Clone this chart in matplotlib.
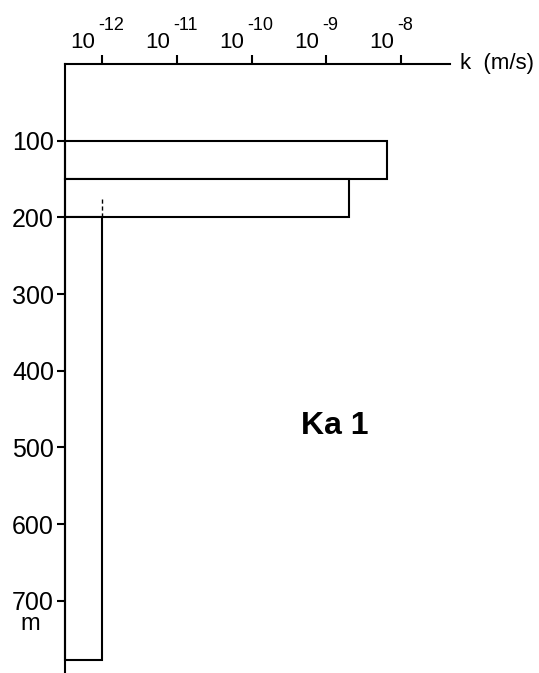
import matplotlib
matplotlib.use("Agg")
import matplotlib.pyplot as plt
from matplotlib.transforms import blended_transform_factory

plt.rcParams['font.family'] = ['Liberation Sans', 'DejaVu Sans']

# Data
depth_top = [100, 150, 200]
depth_bottom = [150, 200, 777]
k_values = [6.5e-9, 2.0e-9, 1.0e-12]
dash_k = 1.0e-12
dash_depth = [176, 200]
xtick_vals = [1e-12, 1e-11, 1e-10, 1e-9, 1e-8]
xtick_exponents = ['-12', '-11', '-10', '-9', '-8']
ytick_vals = [100, 200, 300, 400, 500, 600, 700]
ytick_labels = ['100', '200', '300', '400', '500', '600', '700']

W, H = 539, 673
fig = plt.figure(figsize=(W / 100, H / 100), dpi=100)
ax = fig.add_axes([65 / W, 1 / H, (450 - 65) / W, (672 - 64) / H])

xmin = 10 ** (-12.495)
xmax = 10 ** (-12 + (450 - 102) / 74.75)
ax.set_xscale('log')
ax.set_xlim(xmin, xmax)
ax.set_ylim(793, 0)

for t, b, k in zip(depth_top, depth_bottom, k_values):
    ax.barh((t + b) / 2, k - xmin, height=b - t, left=xmin,
            facecolor='white', edgecolor='black', linewidth=1.5,
            clip_on=False, zorder=2)

ax.plot([dash_k, dash_k], dash_depth, color='black', linewidth=1.0,
        linestyle=(0, (3, 2)), zorder=3)

for s in ['right', 'bottom']:
    ax.spines[s].set_visible(False)
for s in ['left', 'top']:
    ax.spines[s].set_linewidth(1.5)

ax.xaxis.tick_top()
ax.set_xticks(xtick_vals)
ax.set_xticklabels([''] * len(xtick_vals))
ax.xaxis.set_minor_locator(matplotlib.ticker.NullLocator())
ax.tick_params(axis='x', which='major', direction='out', length=6.5, width=1.5, pad=2)

xtrans = blended_transform_factory(ax.transData, ax.transAxes)
for xv, ex in zip(xtick_vals, xtick_exponents):
    ax.annotate('10', xy=(xv, 1.0), xycoords=xtrans, xytext=(-7, 16),
                textcoords='offset pixels', ha='right', va='baseline',
                fontsize=16, annotation_clip=False)
    ax.annotate(ex, xy=(xv, 1.0), xycoords=xtrans, xytext=(-4, 34),
                textcoords='offset pixels', ha='left', va='baseline',
                fontsize=13, annotation_clip=False)

ax.set_yticks(ytick_vals)
ax.set_yticklabels(ytick_labels, fontsize=18)
ax.tick_params(axis='y', direction='out', length=6, width=1.5, pad=2)

ax.text(460 / W, 1 - 64 / H, 'k  (m/s)', transform=fig.transFigure, fontsize=16,
        ha='left', va='center')

trans = blended_transform_factory(fig.transFigure, ax.transData)
ax.text(30 / W, 731, 'm', transform=trans, fontsize=17, ha='center', va='center')

ax.text(335 / W, 1 - 426 / H, 'Ka 1', transform=fig.transFigure, fontsize=23,
        fontweight='bold', ha='center', va='center')

fig.savefig('out.png', dpi=100, facecolor='white')
